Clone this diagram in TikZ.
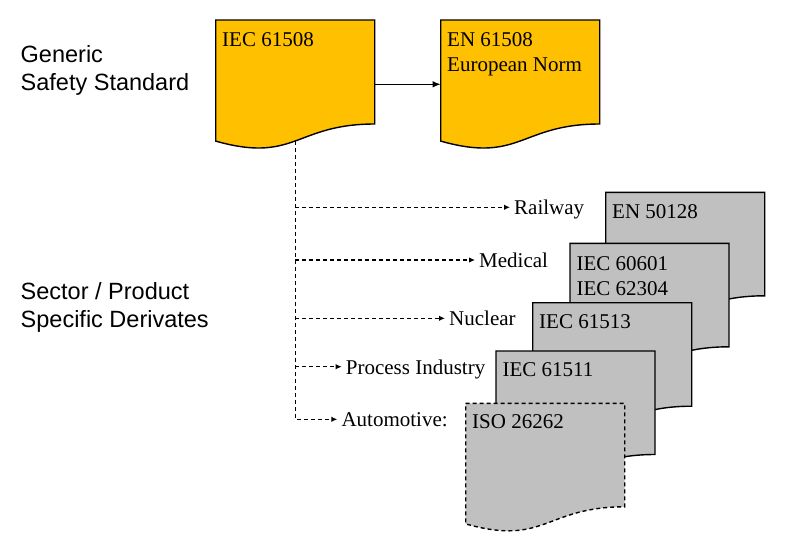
\documentclass[tikz,border=0pt]{standalone}
\usepackage{fontspec}
\setmainfont{Liberation Serif}
\newfontfamily\sansf{Liberation Sans}
\usetikzlibrary{arrows.meta,calc}
\definecolor{docyellow}{HTML}{FFC000}
\definecolor{docgrey}{HTML}{C0C0C0}
\tikzset{
  docbox/.style={anchor=north west, minimum width=159pt, minimum height=104pt, inner sep=0pt, outer sep=0pt},
  doctext/.style={anchor=north west, inner sep=0pt, align=left, font=\fontsize{21}{25.5}\selectfont},
  lbl/.style={anchor=west, inner ysep=0pt, inner xsep=4pt, text height=19.3pt, text depth=4.2pt, font=\fontsize{21}{25.5}\selectfont},
  side/.style={anchor=north west, inner sep=0pt, align=left, font=\sansf\fontsize{23.5}{28.5}\selectfont},
  outline/.style={draw=black, line width=1.4pt, line join=miter},
  dashedge/.style={dash pattern=on 4pt off 3pt},
  dasharrow/.style={line width=1.4pt, dash pattern=on 4pt off 3pt, -{Latex[length=6pt,width=5.5pt]}},
  solidarrow/.style={line width=1.3pt, -{Latex[length=8pt,width=6.5pt]}}
}
\newcommand\docpath[1]{(#1.north west) -- (#1.north east) -- (#1.south east) .. controls (#1.south) and ($(#1.south)+(0,39.6)$) .. ($(#1.south west)+(0,17.1)$) -- cycle}
\begin{document}
\begin{tikzpicture}[x=1pt,y=-1pt]
\useasboundingbox (0,0) rectangle (799,552);
% side captions
\node[side] (gen) at (20.5,45) {Generic\\Safety Standard};
\node[side] (sec) at (20.5,282) {Sector / Product\\Specific Derivates};
% yellow documents
\node[docbox] (iec) at (215.7,20) {};
\node[docbox] (en) at (440.7,20) {};
\path[outline, fill=docyellow] \docpath{iec};
\path[outline, fill=docyellow] \docpath{en};
\node[doctext] (iect) at ($(iec.north west)+(6.3,12)$) {IEC 61508};
\node[doctext] (ent) at ($(en.north west)+(6.3,12)$) {EN 61508\\European Norm};
\draw[solidarrow] ([yshift=-12.3pt]iec.east) -- ([yshift=-12.3pt]en.west);
% sector labels
\coordinate (trunk) at ($(iec.south)+(0,17)$);
\node[lbl] (rail) at (510,207.3) {Railway};
\node[lbl] (med) at (475,260) {Medical};
\node[lbl] (nuc) at (445,318.3) {Nuclear};
\node[lbl] (proc) at (341.7,366.7) {Process Industry};
\node[lbl] (auto) at (337.3,419.3) {Automotive:};
\draw[dasharrow] (trunk) |- (auto.west);
\foreach \n in {rail,med,nuc,proc} \draw[dasharrow] (trunk |- \n.west) -- (\n.west);
% grey documents
\node[docbox, minimum height=103.5pt] (d1) at (605.7,192.3) {};
\path[outline, fill=docgrey] \docpath{d1};
\node[doctext] (d1t) at ($(d1.north west)+(6.3,11.6)$) {EN 50128};
\node[docbox, minimum height=103.5pt] (d2) at (570,243.3) {};
\path[outline, fill=docgrey] \docpath{d2};
\node[doctext] (d2t) at ($(d2.north west)+(6.3,12.6)$) {IEC 60601\\IEC 62304};
\node[docbox, minimum height=103.5pt] (d3) at (532.7,302.7) {};
\path[outline, fill=docgrey] \docpath{d3};
\node[doctext] (d3t) at ($(d3.north west)+(6.3,11.6)$) {IEC 61513};
\node[docbox, minimum height=103.5pt] (d4) at (496,351) {};
\path[outline, fill=docgrey] \docpath{d4};
\node[doctext] (d4t) at ($(d4.north west)+(6.3,11.2)$) {IEC 61511};
\node[docbox, minimum height=103.5pt] (d5) at (465.7,403.3) {};
\path[outline, dashedge, fill=docgrey] \docpath{d5};
\node[doctext] (d5t) at ($(d5.north west)+(6.3,11.2)$) {ISO 26262};
\end{tikzpicture}
\end{document}
